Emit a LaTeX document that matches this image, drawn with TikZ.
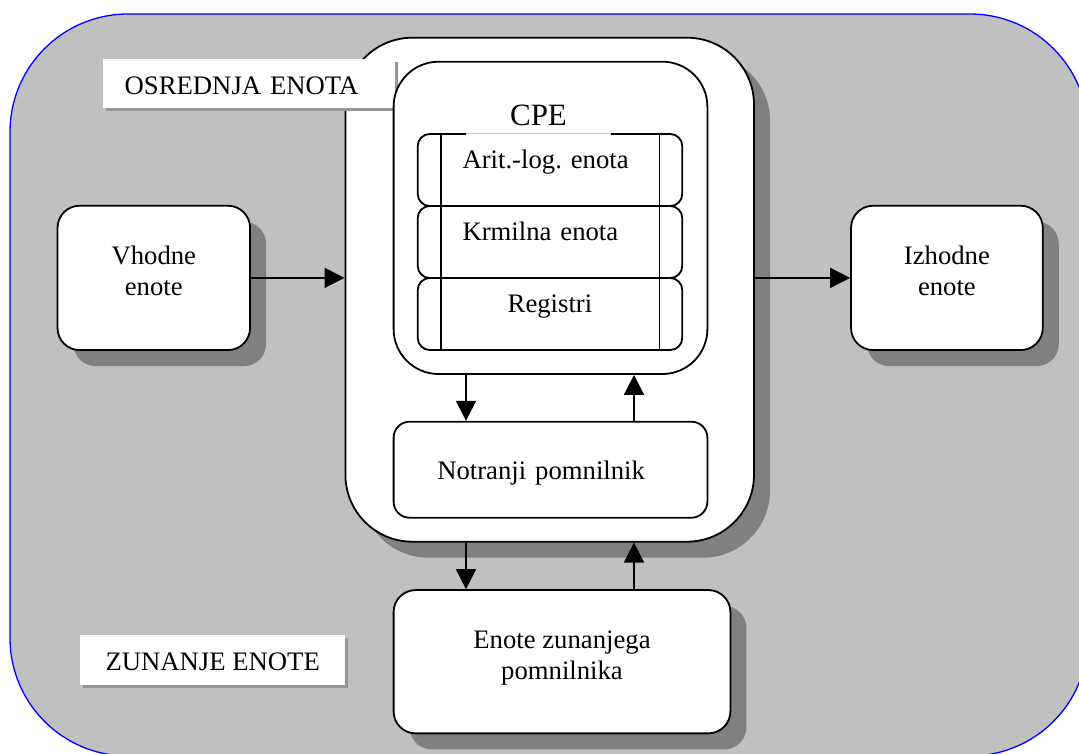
\documentclass[tikz,border=0pt]{standalone}
\usepackage{fontspec}
\setmainfont{Liberation Serif}
\usetikzlibrary{calc,shadows,arrows.meta}
\definecolor{panelgray}{RGB}{192,192,192}
\definecolor{shadowgray}{RGB}{128,128,128}
\definecolor{tagshadow}{RGB}{150,150,150}
\definecolor{frameblue}{RGB}{0,0,255}
\definecolor{seamgray}{RGB}{200,200,200}
\frenchspacing

\begin{document}
\begin{tikzpicture}[x=1pt,y=-1pt,
  font=\fontsize{26.7pt}{31pt}\selectfont,
  boxline/.style={line width=1.8pt},
  unit/.style={draw, boxline, fill=white, inner sep=0pt, align=center},
  deep/.style={drop shadow={shadow xshift=16pt, shadow yshift=-16pt, fill=shadowgray, opacity=1}},
  tag/.style={fill=white, inner sep=0pt, drop shadow={shadow xshift=3pt, shadow yshift=-3pt, fill=tagshadow, opacity=1}},
  rowbox/.style={draw, boxline, rounded corners=12pt, minimum width=264.5pt, minimum height=72pt,
    inner xsep=44.8pt, inner ysep=0pt, text width=174.9pt, text height=10pt, text depth=12.3pt},
  flow/.style={line width=1.8pt, -{Triangle[length=20pt,width=20pt]}}
]
\useasboundingbox (0,0) rectangle (1079,753);

% grey background panel of the whole computer
\begin{scope}
  \clip (0,0) rectangle (1079,753);
  \draw[frameblue, line width=1.3pt, fill=panelgray, rounded corners=118pt] (10,14) rectangle (1088,756);
\end{scope}

% central unit
\node[unit, deep, rounded corners=67pt, minimum width=408.6pt, minimum height=504pt] (core) at (549.7,289.7) {};
\node[tag, minimum width=292.4pt, minimum height=49pt, inner xsep=22.1pt, text width=248.2pt,
      align=left, text height=22.1pt, text depth=0pt] (lblcore) at (248.8,83.8) {OSREDNJA ENOTA};

% processor with its three parts
\node[unit, rounded corners=45pt, minimum width=313.8pt, minimum height=312.3pt] (cpe) at (550.5,217.85) {};
\node[rowbox, align=left] (alu) at (550,170) {Arit.-log. enota};
\node[rowbox, align=left] (ctrl) at (550,242) {Krmilna enota};
\node[rowbox, align=center] (regs) at (550,314) {Registri};
\draw[boxline] ($(alu.north west)+(23.8,0)$) -- ($(regs.south west)+(23.8,0)$);
\draw[boxline] ($(alu.north east)+(-23.7,0)$) -- ($(regs.south east)+(-23.7,0)$);
\node[fill=white, inner sep=0pt, minimum width=145pt, minimum height=40pt, text height=20.5pt, text depth=0pt,
      font=\fontsize{31pt}{36pt}\selectfont] (lblcpe) at (538.5,115.5) {CPE};
\draw[line width=0.8pt, seamgray] (lblcpe.west |- alu.north) -- (lblcpe.east |- alu.north);

% main memory
\node[unit, rounded corners=16pt, minimum width=313.8pt, minimum height=96pt, inner xsep=43.7pt,
      text width=226.4pt, align=left, text height=19.3pt, text depth=0pt] (mem) at (550.5,469.7) {Notranji pomnilnik};

% peripheral units
\node[unit, deep, rounded corners=22pt, minimum width=336.8pt, minimum height=143.3pt] (ext) at (562,661.7)
  {Enote zunanjega\\pomnilnika\\[-17pt]\mbox{}};
\node[unit, deep, rounded corners=22pt, minimum width=192.5pt, minimum height=144.3pt] (vin) at (153.8,277.9)
  {Vhodne\\enote\\[-17pt]\mbox{}};
\node[unit, deep, rounded corners=22pt, minimum width=191.7pt, minimum height=144.3pt] (vout) at (946.9,277.9)
  {Izhodne\\enote\\[-17pt]\mbox{}};
\node[tag, minimum width=265.4pt, minimum height=50pt, text height=21.7pt, text depth=0pt] (lblext) at (212.7,660)
  {ZUNANJE ENOTE};

% data paths
\coordinate (xl) at (466,0);
\coordinate (xr) at (634,0);
\draw[flow] (vin.east) -- (vin.east -| core.west);
\draw[flow] (vout.west -| core.east) -- (vout.west);
\draw[flow] (xl |- cpe.south) -- (xl |- mem.north);
\draw[flow] (xr |- mem.north) -- (xr |- cpe.south);
\draw[flow] (xl |- core.south) -- (xl |- ext.north);
\draw[flow] (xr |- ext.north) -- (xr |- core.south);
\end{tikzpicture}
\end{document}
